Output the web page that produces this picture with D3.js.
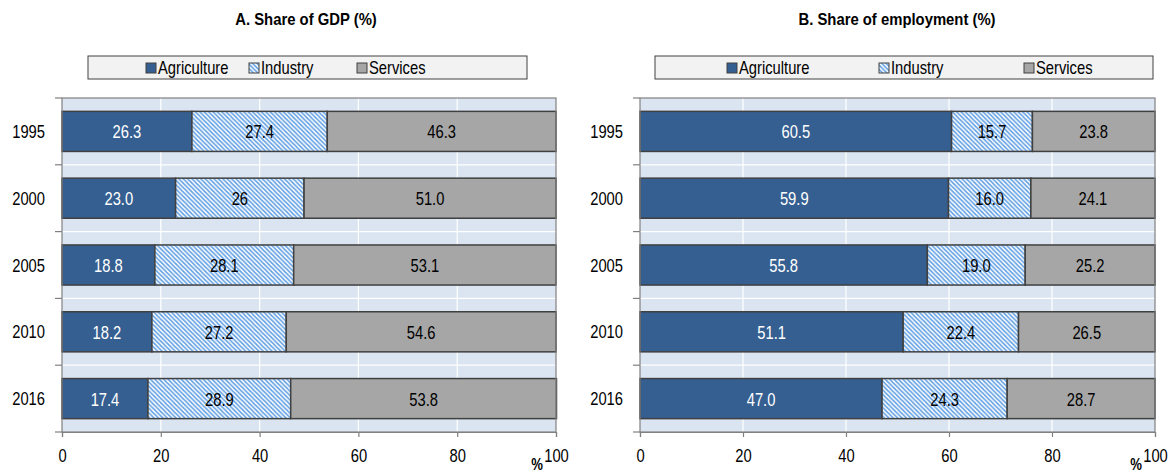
<!DOCTYPE html>
<html><head><meta charset="utf-8">
<script src="https://cdn.jsdelivr.net/npm/d3@7/dist/d3.min.js"></script>
<style>
body{margin:0;background:#fff;}
text{font-family:"Liberation Sans Narrow","Arial Narrow","Liberation Sans",Arial,sans-serif;}
</style></head>
<body><svg id="c" width="1173" height="472"></svg>
<script>
const years = ["1995","2000","2005","2010","2016"];
const seriesNames = ["Agriculture","Industry","Services"];
const gdpAgriculture = ["26.3","23.0","18.8","18.2","17.4"];
const gdpIndustry    = ["27.4","26","28.1","27.2","28.9"];
const gdpServices    = ["46.3","51.0","53.1","54.6","53.8"];
const empAgriculture = ["60.5","59.9","55.8","51.1","47.0"];
const empIndustry    = ["15.7","16.0","19.0","22.4","24.3"];
const empServices    = ["23.8","24.1","25.2","26.5","28.7"];
const xTicks = [0,20,40,60,80,100];
const titleA = "A. Share of GDP (%)";
const titleB = "B. Share of employment (%)";

const SX = 0.82; // condensed look
const svg = d3.select("#c");
const defs = svg.append("defs");
const pat = defs.append("pattern").attr("id","hatch").attr("patternUnits","userSpaceOnUse")
  .attr("width",4.4).attr("height",4.4);
pat.append("rect").attr("width",4.4).attr("height",4.4).attr("fill","#fff");
pat.append("path").attr("d","M-1,-1L5.4,5.4M-1,3.4L1,5.4M3.4,-1L5.4,1").attr("stroke","#62a0e2").attr("stroke-width",1.6);

const fills = ["#365f91","url(#hatch)","#a6a6a6"];
const labelColors = ["#fff","#000","#000"];

function txt(g,x,y,s,opt={}){
  return g.append("text")
    .attr("transform",`translate(${x},${y}) scale(${opt.sx||SX},1)`)
    .attr("text-anchor",opt.anchor||"start")
    .attr("font-size",opt.size||18)
    .attr("font-weight",opt.weight||"normal")
    .attr("fill",opt.fill||"#000")
    .text(s);
}

function panel(cfg){
  const g = svg.append("g");
  const x = d3.scaleLinear().domain([0,100]).range([cfg.x0,cfg.x1]);
  const y = d3.scaleBand().domain(years).range([98,432]).padding(0);
  const data = years.map((yr,i)=>{
    const vals = cfg.series.map(s=>s[i]);
    let cum = 0;
    return vals.map((v,k)=>{const o={yr,k,label:v,v0:cum,v1:cum+(+v)}; cum+=(+v); return o;});
  });
  // title
  txt(g,cfg.titleX,25,cfg.title,{anchor:"middle",size:16.5,weight:"bold",sx:0.9});
  // legend
  g.append("rect").attr("x",cfg.legX0).attr("y",56).attr("width",cfg.legX1-cfg.legX0).attr("height",23)
    .attr("fill","#f2f2f2").attr("stroke","#404040").attr("stroke-width",1);
  seriesNames.forEach((n,k)=>{
    const lx = cfg.legItems[k];
    g.append("rect").attr("x",lx).attr("y",63).attr("width",10).attr("height",10)
      .attr("fill",fills[k]).attr("stroke","#404040").attr("stroke-width",1);
    txt(g,lx+12,74,n);
  });
  // background
  g.append("rect").attr("x",cfg.x0).attr("y",98).attr("width",cfg.x1-cfg.x0).attr("height",334)
    .attr("fill","#dbe5f1");
  // grid
  g.selectAll(".vg").data(xTicks.slice(1,-1)).join("line")
    .attr("x1",d=>x(d)).attr("x2",d=>x(d)).attr("y1",98).attr("y2",432)
    .attr("stroke","#fff").attr("stroke-width",1.2);
  g.selectAll(".hg").data(years.slice(1)).join("line")
    .attr("x1",cfg.x0).attr("x2",cfg.x1).attr("y1",d=>y(d)).attr("y2",d=>y(d))
    .attr("stroke","#fff").attr("stroke-width",1.2);
  // bars
  const bh = y.bandwidth()*0.6;
  const rows = g.selectAll(".row").data(data).join("g");
  rows.selectAll("rect").data(d=>d).join("rect")
    .attr("x",d=>x(d.v0)).attr("width",d=>x(d.v1)-x(d.v0))
    .attr("y",d=>y(d.yr)+(y.bandwidth()-bh)/2).attr("height",bh)
    .attr("fill",d=>fills[d.k]).attr("stroke","#404040").attr("stroke-width",1.5);
  rows.selectAll("text").data(d=>d).join("text")
    .attr("transform",d=>`translate(${(x(d.v0)+x(d.v1))/2},${y(d.yr)+y.bandwidth()/2+7}) scale(${SX},1)`)
    .attr("text-anchor","middle").attr("font-size",18).attr("fill",d=>labelColors[d.k])
    .text(d=>d.label);
  // border
  g.append("rect").attr("x",cfg.x0).attr("y",98).attr("width",cfg.x1-cfg.x0).attr("height",334)
    .attr("fill","none").attr("stroke","#808080").attr("stroke-width",1.2);
  // y axis
  const yTickPos = years.map(d=>y(d)).concat([432]);
  g.selectAll(".yt").data(yTickPos).join("line")
    .attr("x1",cfg.x0-7).attr("x2",cfg.x0).attr("y1",d=>d).attr("y2",d=>d)
    .attr("stroke","#808080").attr("stroke-width",1.2);
  years.forEach(d=>txt(g,cfg.x0-17,y(d)+y.bandwidth()/2+6.5,d,{anchor:"end"}));
  // x axis
  const xa = g.append("g").attr("transform","translate(0,432)")
    .call(d3.axisBottom(x).tickValues(xTicks).tickSize(5).tickFormat(d=>d));
  xa.select(".domain").attr("stroke","#808080").attr("stroke-width",1.2);
  xa.selectAll(".tick line").attr("stroke","#808080").attr("stroke-width",1.2);
  xa.selectAll(".tick text").attr("font-size",18).attr("fill","#000")
    .attr("y",30).attr("dy",0).attr("transform",`scale(${SX},1)`)
    .style("font-family",'"Liberation Sans Narrow","Arial Narrow","Liberation Sans",Arial,sans-serif');
  txt(g,cfg.x1-19,470,"%",{anchor:"middle",size:16,weight:"bold"});
}

panel({x0:62,x1:556,title:titleA,titleX:306,legX0:88,legX1:527,legItems:[146,249,357],
  series:[gdpAgriculture,gdpIndustry,gdpServices]});
panel({x0:640,x1:1155,title:titleB,titleX:897,legX0:655,legX1:1153,legItems:[727,879,1024],
  series:[empAgriculture,empIndustry,empServices]});
</script></body></html>
